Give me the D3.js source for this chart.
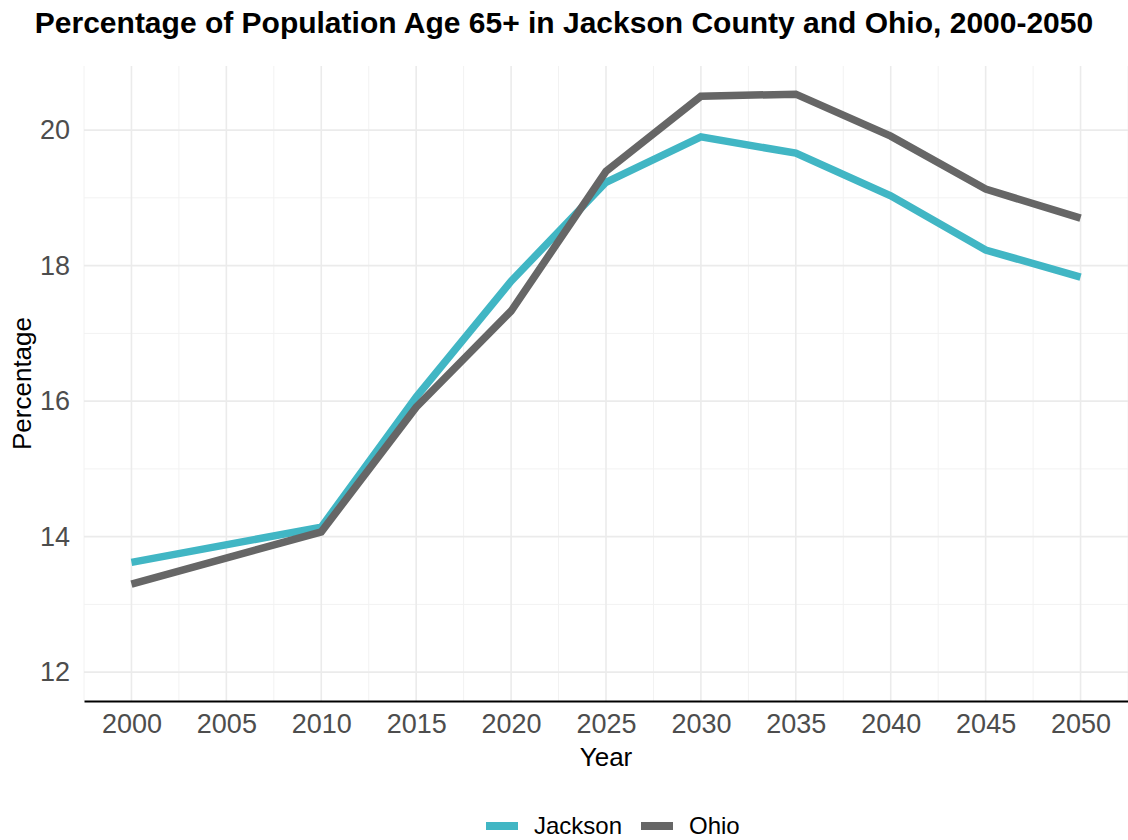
<!DOCTYPE html>
<html>
<head>
<meta charset="utf-8">
<script src="https://cdn.jsdelivr.net/npm/d3@7"></script>
<style>
  body { margin: 0; background: #fff; }
  text { font-family: "Liberation Sans", Arial, sans-serif; }
</style>
</head>
<body>
<div id="chart"></div>
<script>
// data
var years = [2000, 2010, 2015, 2020, 2025, 2030, 2035, 2040, 2045, 2050];
var jackson = [13.62, 14.14, 16.06, 17.77, 19.23, 19.90, 19.66, 19.03, 18.23, 17.83];
var ohio = [13.30, 14.07, 15.91, 17.33, 19.39, 20.50, 20.53, 19.91, 19.13, 18.70];
var xTicks = [2000, 2005, 2010, 2015, 2020, 2025, 2030, 2035, 2040, 2045, 2050];
var yTicks = [12, 14, 16, 18, 20];
var seriesNames = ["Jackson", "Ohio"];
var seriesColors = ["#41b6c4", "#666666"];

var w = 1128, h = 840;
var padL = 84, padR = 1128, padT = 66, padB = 701;

var svg = d3.select("#chart").append("svg").attr("width", w).attr("height", h);

var x = d3.scaleLinear().domain([1997.5, 2052.5]).range([padL, padR]);
var y = d3.scaleLinear().domain([11.574, 20.946]).range([padB, padT]);

// grid, minor first
var xMinor = d3.range(1997.5, 2053, 2.5).filter(function(d) { return d % 5 != 0; });
var yMinor = [13, 15, 17, 19];
var grid = svg.append("g");
grid.selectAll("line.xmin").data(xMinor).enter().append("line")
  .attr("x1", x).attr("x2", x).attr("y1", padT).attr("y2", padB)
  .attr("stroke", "#f2f2f2").attr("stroke-width", 1);
grid.selectAll("line.ymin").data(yMinor).enter().append("line")
  .attr("x1", padL).attr("x2", padR).attr("y1", y).attr("y2", y)
  .attr("stroke", "#f2f2f2").attr("stroke-width", 1);
grid.selectAll("line.xmaj").data(xTicks).enter().append("line")
  .attr("x1", x).attr("x2", x).attr("y1", padT).attr("y2", padB)
  .attr("stroke", "#ebebeb").attr("stroke-width", 1.6);
grid.selectAll("line.ymaj").data(yTicks).enter().append("line")
  .attr("x1", padL).attr("x2", padR).attr("y1", y).attr("y2", y)
  .attr("stroke", "#ebebeb").attr("stroke-width", 1.6);

// axes
var xAxis = svg.append("g").attr("transform", "translate(0," + padB + ")")
  .call(d3.axisBottom(x).tickValues(xTicks).tickFormat(d3.format("d")).tickSize(0).tickPadding(13));
xAxis.select(".domain").attr("stroke", "#000").attr("stroke-width", 1.8);
xAxis.selectAll("text").attr("font-size", 27).attr("fill", "#4d4d4d")
  .attr("font-family", "Liberation Sans, Arial, sans-serif");

var yAxis = svg.append("g").attr("transform", "translate(" + padL + ",0)")
  .call(d3.axisLeft(y).tickValues(yTicks).tickSize(0).tickPadding(14));
yAxis.select(".domain").remove();
yAxis.selectAll("text").attr("font-size", 27).attr("fill", "#4d4d4d")
  .attr("font-family", "Liberation Sans, Arial, sans-serif");

// lines
var line = d3.line().x(function(d) { return x(d[0]); }).y(function(d) { return y(d[1]); });
[jackson, ohio].forEach(function(vals, i) {
  svg.append("path")
    .datum(years.map(function(yr, j) { return [yr, vals[j]]; }))
    .attr("d", line).attr("fill", "none")
    .attr("stroke", seriesColors[i]).attr("stroke-width", 7.5)
    .attr("stroke-linejoin", "miter").attr("stroke-linecap", "butt");
});

// titles
svg.append("text").attr("x", 564).attr("y", 33).attr("text-anchor", "middle")
  .attr("font-size", 30).attr("font-weight", "bold").attr("fill", "#000")
  .text("Percentage of Population Age 65+ in Jackson County and Ohio, 2000-2050");
svg.append("text").attr("x", (padL + padR) / 2).attr("y", 766).attr("text-anchor", "middle")
  .attr("font-size", 26).attr("fill", "#000").text("Year");
svg.append("text").attr("transform", "translate(31," + (padT + padB) / 2 + ") rotate(-90)")
  .attr("text-anchor", "middle").attr("font-size", 26).attr("fill", "#000").text("Percentage");

// legend
var legend = svg.append("g");
var legX = [486, 641];
seriesNames.forEach(function(name, i) {
  legend.append("rect").attr("x", legX[i]).attr("y", 822).attr("width", 32).attr("height", 8)
    .attr("fill", seriesColors[i]);
  legend.append("text").attr("x", legX[i] + 48).attr("y", 834)
    .attr("font-size", 24).attr("fill", "#000").text(name);
});
</script>
</body>
</html>
